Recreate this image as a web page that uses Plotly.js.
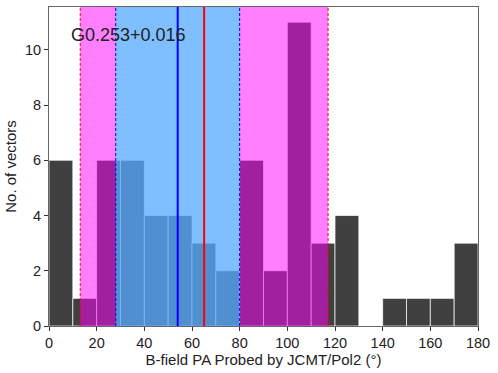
<!DOCTYPE html>
<html>
<head>
<meta charset="utf-8">
<script src="https://cdn.plot.ly/plotly-3.0.1.min.js"></script>
<style>
  html, body { margin: 0; padding: 0; background: #fff; }
  #chart { width: 498px; height: 373px; }
</style>
</head>
<body>
<div id="chart"></div>
<script>
// histogram bins (left edges, width 10 deg) and counts
var binStart = [0, 10, 20, 30, 40, 50, 60, 70, 80, 90, 100, 110, 120, 130, 140, 150, 160, 170];
var counts   = [6, 1, 6, 6, 4, 4, 3, 2, 6, 2, 11, 3, 4, 0, 1, 1, 1, 3];
var binWidth = 10;

// red = mean +- sigma, blue = mean +- sigma
var redMean = 65.1, redSigma = 52;
var blueMean = 54, blueSigma = 26;

var label = "G0.253+0.016";

var bars = {
  type: 'bar',
  x: binStart,
  y: counts,
  width: binWidth,
  offset: 0,
  marker: {
    color: '#404040',
    line: { color: 'rgba(255,255,255,0.7)', width: 1 }
  },
  hoverinfo: 'x+y',
  showlegend: false
};

function vline(x, color, width, dash) {
  return {
    type: 'line', layer: 'above',
    xref: 'x', yref: 'paper',
    x0: x, x1: x, y0: 0, y1: 1,
    line: { color: color, width: width, dash: dash }
  };
}

var shapes = [
  {
    type: 'rect', layer: 'above', xref: 'x', yref: 'paper',
    x0: redMean - redSigma, x1: redMean + redSigma, y0: 0, y1: 1,
    fillcolor: 'rgba(255,0,255,0.5)', line: { width: 0 }
  },
  {
    type: 'rect', layer: 'above', xref: 'x', yref: 'paper',
    x0: blueMean - blueSigma, x1: blueMean + blueSigma, y0: 0, y1: 1,
    fillcolor: 'rgba(0,255,255,0.5)', line: { width: 0 }
  },
  vline(redMean - redSigma, 'red', 1, '3px,2px'),
  vline(redMean + redSigma, 'red', 1, '3px,2px'),
  vline(blueMean - blueSigma, 'blue', 1, '3px,2px'),
  vline(blueMean + blueSigma, 'blue', 1, '3px,2px'),
  vline(blueMean, 'blue', 2, 'solid'),
  vline(redMean, 'red', 2, 'solid')
];

var layout = {
  width: 498,
  height: 373,
  margin: { l: 49, r: 20, t: 7, b: 47 },
  paper_bgcolor: '#fff',
  plot_bgcolor: '#fff',
  font: { family: 'Liberation Sans, Arial, sans-serif', size: 14, color: '#222' },
  bargap: 0,
  xaxis: {
    range: [0, 180],
    tickvals: [0, 20, 40, 60, 80, 100, 120, 140, 160, 180],
    ticks: 'outside', ticklen: 4, tickcolor: '#333',
    tickfont: { size: 14.5 },
    showgrid: false, zeroline: false,
    showline: true, mirror: true, linecolor: '#666', linewidth: 1,
    title: { text: 'B-field PA Probed by JCMT/Pol2 (°)', standoff: 2, font: { size: 15 } }
  },
  yaxis: {
    range: [0, 11.55],
    tickvals: [0, 2, 4, 6, 8, 10],
    ticks: 'outside', ticklen: 4, tickcolor: '#333',
    tickfont: { size: 14.5 },
    showgrid: false, zeroline: false,
    showline: true, mirror: true, linecolor: '#666', linewidth: 1,
    title: { text: 'No. of vectors', standoff: 4, font: { size: 15 } }
  },
  shapes: shapes,
  annotations: [{
    text: label,
    xref: 'x', yref: 'y',
    x: 8.3, y: 10.55,
    xanchor: 'left', yanchor: 'middle',
    showarrow: false,
    font: { size: 18, color: '#222' }
  }]
};

Plotly.newPlot('chart', [bars], layout, { displayModeBar: false, staticPlot: true });
</script>
</body>
</html>
